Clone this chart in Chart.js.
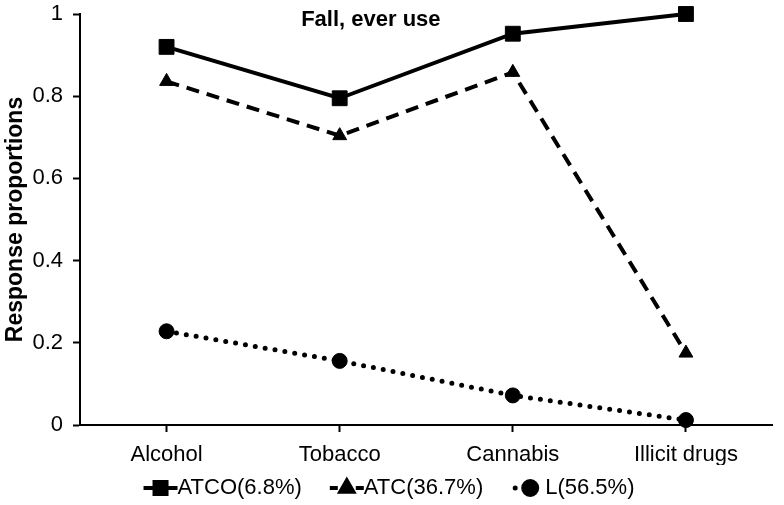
<!DOCTYPE html>
<html>
<head>
<meta charset="utf-8">
<script src="https://cdn.jsdelivr.net/npm/chart.js@4"></script>
<style>
  html, body { margin: 0; padding: 0; background: #fff; }
  #wrap { width: 784px; height: 505px; position: relative; }
</style>
</head>
<body>
<div id="wrap"><canvas id="c"></canvas></div>
<script>
const categories = ["Alcohol", "Tobacco", "Cannabis", "Illicit drugs"];
const seriesNames = ["ATCO(6.8%)", "ATC(36.7%)", "L(56.5%)"];
const atco = [0.92, 0.795, 0.952, 1.0];
const atc = [0.836, 0.704, 0.858, 0.175];
const lClass = [0.228, 0.156, 0.072, 0.012];
const yTickValues = [0, 0.2, 0.4, 0.6, 0.8, 1];
const chartTitle = "Fall, ever use";
const yAxisTitle = "Response proportions";

const FONT = "'Liberation Sans', Arial, sans-serif";

const styles = [
  { dash: [], pointStyle: 'rect', radius: 10.5, legendRadius: 8.5, width: 4 },
  { dash: [13, 8], pointStyle: 'triangle', radius: 8, legendRadius: 7.5, width: 4 },
  { dash: [0, 10], pointStyle: 'circle', radius: 7.5, legendRadius: 6.5, width: 5 }
];
const values = [atco, atc, lClass];

const datasets = values.map((v, i) => ({
  label: seriesNames[i],
  data: v,
  borderColor: '#000',
  backgroundColor: '#000',
  borderWidth: styles[i].width,
  borderDash: styles[i].dash,
  borderCapStyle: i === 2 ? 'round' : 'butt',
  pointStyle: styles[i].pointStyle,
  pointRadius: styles[i].radius,
  pointHoverRadius: styles[i].radius,
  pointBackgroundColor: '#000',
  pointBorderColor: '#000',
  pointBorderWidth: 1,
  tension: 0,
  fill: false,
  clip: false
}));

const titlePlugin = {
  id: 'innerTitle',
  afterDraw(chart) {
    const ctx = chart.ctx, a = chart.chartArea;
    ctx.save();
    ctx.font = "bold 22px " + FONT;
    ctx.fillStyle = '#000';
    ctx.textAlign = 'center';
    ctx.textBaseline = 'middle';
    ctx.fillText(chartTitle, a.left + (a.right - a.left) * 0.42, a.top + 6);
    ctx.restore();
  }
};

const legendPlugin = {
  id: 'lineLegend',
  afterDraw(chart) {
    const ctx = chart.ctx;
    ctx.save();
    ctx.font = "22px " + FONT;
    const sampleW = 34, gap = 28;
    const widths = seriesNames.map(n => ctx.measureText(n).width);
    const total = widths.reduce((s, w) => s + sampleW + w, 0) + gap * (seriesNames.length - 1);
    let x = chart.width / 2 - total / 2 - 3;
    const y = 488;
    seriesNames.forEach((name, i) => {
      ctx.save();
      ctx.strokeStyle = '#000';
      ctx.lineWidth = styles[i].width;
      ctx.lineCap = i === 2 ? 'round' : 'butt';
      ctx.setLineDash(i === 1 ? [8, 5] : styles[i].dash);
      ctx.beginPath();
      ctx.moveTo(x + (i === 2 ? 4 : 0), y);
      ctx.lineTo(x + sampleW, y);
      ctx.stroke();
      ctx.setLineDash([]);
      ctx.fillStyle = '#000';
      Chart.helpers.drawPoint(ctx, {
        pointStyle: styles[i].pointStyle,
        radius: styles[i].legendRadius,
        rotation: 0,
        borderWidth: 1
      }, x + sampleW / 2 + (i === 2 ? 2 : 0), y);
      ctx.restore();
      ctx.fillStyle = '#000';
      ctx.textAlign = 'left';
      ctx.textBaseline = 'middle';
      ctx.fillText(name, x + sampleW, y);
      x += sampleW + widths[i] + gap;
    });
    ctx.restore();
  }
};

new Chart(document.getElementById('c'), {
  type: 'line',
  data: { labels: categories, datasets },
  options: {
    responsive: true,
    maintainAspectRatio: false,
    animation: false,
    layout: { padding: { top: 14, right: 4, bottom: 40, left: 0 } },
    plugins: {
      legend: { display: false },
      title: { display: false },
      tooltip: { enabled: false }
    },
    scales: {
      x: {
        type: 'category',
        offset: true,
        grid: {
          offset: false,
          drawOnChartArea: false,
          drawTicks: true,
          tickLength: 7,
          tickWidth: 2,
          tickColor: '#000'
        },
        border: { display: true, color: '#000', width: 2 },
        ticks: {
          color: '#000',
          padding: 10,
          maxRotation: 0,
          autoSkip: false,
          font: { family: FONT, size: 22 }
        },
        afterFit(scale) {
          scale.height = 40;
          scale.paddingLeft = 0; scale.paddingRight = 0;
          scale.paddingTop = 0; scale.paddingBottom = 0;
        }
      },
      y: {
        min: 0,
        max: 1,
        afterBuildTicks(scale) { scale.ticks = yTickValues.map(v => ({ value: v })); },
        grid: {
          drawOnChartArea: false,
          drawTicks: true,
          tickLength: 7,
          tickWidth: 2,
          tickColor: '#000'
        },
        border: { display: true, color: '#000', width: 2 },
        ticks: {
          color: '#000',
          padding: 10,
          font: { family: FONT, size: 22 },
          callback: v => String(v)
        },
        title: {
          display: true,
          text: yAxisTitle,
          color: '#000',
          font: { family: FONT, size: 23, weight: 'bold' },
          padding: { top: 2, bottom: 0 }
        },
        afterFit(scale) {
          scale.width = 80;
          scale.paddingLeft = 0; scale.paddingRight = 0;
          scale.paddingTop = 0; scale.paddingBottom = 0;
        }
      }
    }
  },
  plugins: [titlePlugin, legendPlugin]
});
</script>
</body>
</html>
